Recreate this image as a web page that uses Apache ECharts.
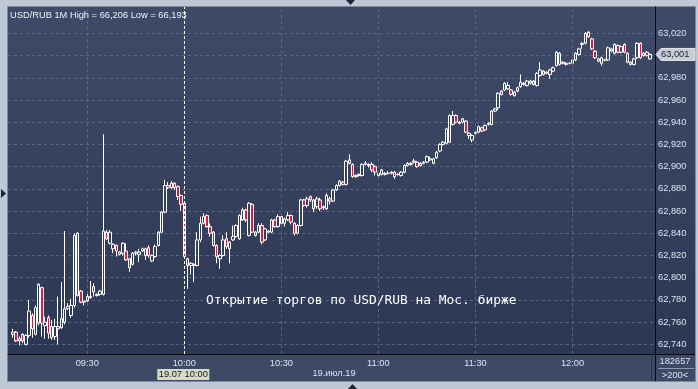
<!DOCTYPE html>
<html><head><meta charset="utf-8">
<script src="https://cdn.jsdelivr.net/npm/echarts@6/dist/echarts.min.js"></script>
<style>html,body{margin:0;padding:0;background:#bfc9d6;}#c{width:698px;height:389px;}</style>
</head><body><div id="c"></div>
<script>
// ---- texts ----
const titleText = 'USD/RUB 1M High = 66,206 Low = 66,193';
const noteText = 'Открытие торгов по USD/RUB на Мос. бирже';
const dateText = '19.июл.19';
const cursorTime = '10:00';
const cursorTag = '19.07 10:00';
const volumeText = '182657';
const countText = '>200<';

// ---- axis ----
const firstMinute = 9 * 60 + 6;   // 09:06
const lastMinute = 12 * 60 + 25;  // 12:25
const firstCandleIndex = 1;       // first candle at 09:07
const gridTimes = ['09:30', '10:30', '11:00', '11:30', '12:00'];
const yTicks = [62.74, 62.76, 62.78, 62.80, 62.82, 62.84, 62.86, 62.88, 62.90, 62.92, 62.94, 62.96, 62.98, 63.00, 63.02];
const yMin = 62.7313, yMax = 63.0437;

// ---- candles [open, close, low, high] ----
const candlesEarly = [
[62.749,62.751,62.746,62.754],[62.751,62.743,62.742,62.752],[62.743,62.745,62.739,62.747],[62.749,62.743,62.741,62.750],
[62.740,62.748,62.739,62.749],[62.748,62.770,62.746,62.780],[62.766,62.754,62.746,62.768],[62.749,62.773,62.748,62.775],
[62.759,62.794,62.757,62.795],[62.791,62.759,62.747,62.792],[62.757,62.760,62.745,62.765],[62.764,62.750,62.745,62.766],
[62.756,62.746,62.744,62.762],[62.747,62.756,62.744,62.763],[62.756,62.754,62.740,62.783],[62.755,62.763,62.754,62.796],
[62.760,62.772,62.758,62.842],[62.772,62.774,62.771,62.777],[62.766,62.775,62.764,62.781],[62.775,62.838,62.773,62.840],
[62.840,62.784,62.783,62.841],[62.788,62.778,62.777,62.789],[62.779,62.778,62.775,62.779],[62.779,62.783,62.778,62.787],
[62.782,62.783,62.781,62.797],[62.792,62.787,62.783,62.795],[62.785,62.784,62.783,62.786],[62.785,62.788,62.784,62.789],
[62.785,62.842,62.784,62.929],[62.841,62.835,62.834,62.843],[62.831,62.841,62.830,62.843],[62.826,62.830,62.822,62.831],
[62.829,62.824,62.819,62.830],[62.821,62.823,62.820,62.824],[62.822,62.831,62.820,62.832],[62.824,62.816,62.815,62.831],
[62.817,62.809,62.805,62.818],[62.812,62.822,62.811,62.823],[62.822,62.823,62.820,62.824],[62.821,62.823,62.814,62.826],
[62.824,62.826,62.823,62.827],[62.820,62.826,62.816,62.827],[62.827,62.820,62.818,62.829],[62.815,62.820,62.814,62.821],
[62.819,62.828,62.818,62.830],[62.829,62.841,62.828,62.842],[62.841,62.859,62.840,62.860],[62.859,62.883,62.858,62.888],
[62.883,62.881,62.880,62.886],[62.881,62.885,62.880,62.887],[62.885,62.881,62.879,62.886],[62.882,62.873,62.870,62.883],
[62.874,62.866,62.860,62.875],[62.867,62.819,62.817,62.868]
];
const candlesMid = [
[62.817,62.811,62.790,62.818],[62.811,62.813,62.803,62.814],[62.812,62.811,62.796,62.813],[62.811,62.834,62.810,62.841],
[62.834,62.849,62.832,62.855],[62.849,62.855,62.848,62.858],[62.856,62.846,62.845,62.857],[62.846,62.840,62.837,62.849],
[62.841,62.829,62.828,62.842],[62.829,62.819,62.813,62.830],[62.817,62.820,62.808,62.821],[62.820,62.834,62.819,62.838],
[62.835,62.828,62.826,62.841],[62.826,62.832,62.813,62.833],[62.834,62.837,62.833,62.847],[62.837,62.847,62.836,62.848],
[62.835,62.856,62.834,62.857],[62.852,62.861,62.851,62.863],[62.861,62.852,62.850,62.862],[62.838,62.867,62.837,62.868],
[62.866,62.841,62.840,62.867],[62.841,62.838,62.837,62.842],[62.841,62.847,62.840,62.849],[62.847,62.832,62.830,62.849],
[62.834,62.844,62.833,62.845],[62.841,62.842,62.840,62.843],[62.841,62.852,62.840,62.853],[62.852,62.846,62.845,62.853],
[62.846,62.855,62.845,62.857],[62.855,62.849,62.848,62.857],[62.849,62.853,62.846,62.854],[62.852,62.856,62.851,62.859],
[62.856,62.850,62.848,62.857],[62.849,62.840,62.838,62.850],[62.840,62.847,62.839,62.848],[62.847,62.870,62.846,62.871],
[62.870,62.865,62.864,62.871],[62.865,62.871,62.863,62.873],[62.873,62.870,62.868,62.874],[62.870,62.862,62.859,62.871],
[62.864,62.871,62.862,62.873],[62.870,62.862,62.860,62.872],[62.863,62.864,62.861,62.865],[62.862,62.874,62.861,62.876],
[62.871,62.869,62.866,62.873]
];
const candlesLate = [
[62.869,62.879,62.868,62.880],[62.879,62.883,62.878,62.884],[62.883,62.887,62.882,62.888],[62.886,62.884,62.883,62.887],
[62.884,62.905,62.883,62.906],[62.906,62.903,62.902,62.911],[62.902,62.891,62.890,62.903],[62.892,62.891,62.890,62.893],
[62.892,62.893,62.891,62.894],[62.892,62.902,62.891,62.903],[62.902,62.903,62.901,62.905],[62.902,62.901,62.899,62.903],
[62.902,62.897,62.895,62.904],[62.900,62.895,62.892,62.901],[62.892,62.894,62.891,62.895],[62.893,62.897,62.892,62.898],
[62.894,62.893,62.892,62.895],[62.894,62.894,62.893,62.896],[62.894,62.895,62.893,62.896],[62.895,62.891,62.889,62.896],
[62.893,62.893,62.892,62.894],[62.892,62.895,62.891,62.896],[62.895,62.901,62.894,62.902],[62.901,62.903,62.900,62.904],
[62.902,62.903,62.901,62.904],[62.904,62.905,62.903,62.907],[62.904,62.900,62.899,62.905],[62.901,62.903,62.900,62.904],
[62.903,62.904,62.902,62.905],[62.904,62.909,62.903,62.910],[62.906,62.907,62.905,62.909],[62.903,62.907,62.902,62.908],
[62.908,62.913,62.907,62.914],[62.914,62.920,62.913,62.921],[62.920,62.922,62.919,62.923],[62.921,62.934,62.920,62.935],
[62.922,62.946,62.921,62.947],[62.938,62.946,62.937,62.950],[62.946,62.940,62.939,62.947],[62.940,62.939,62.938,62.941],
[62.940,62.943,62.939,62.944],[62.941,62.931,62.930,62.942],[62.928,62.930,62.925,62.931],[62.924,62.928,62.922,62.929],
[62.930,62.931,62.929,62.932],[62.931,62.936,62.930,62.937],[62.935,62.932,62.931,62.936],[62.933,62.937,62.932,62.938],
[62.938,62.939,62.937,62.940],[62.938,62.950,62.937,62.951],[62.950,62.952,62.949,62.953]
];
const candlesNoon = [
[62.953,62.966,62.951,62.967],[62.965,62.968,62.964,62.969],[62.969,62.975,62.968,62.976],[62.970,62.973,62.969,62.976],
[62.969,62.965,62.964,62.970],[62.964,62.967,62.963,62.968],[62.968,62.971,62.967,62.972],[62.972,62.976,62.971,62.983],
[62.975,62.974,62.973,62.976],[62.973,62.977,62.972,62.978],[62.975,62.977,62.974,62.978],[62.977,62.974,62.973,62.978],
[62.973,62.984,62.972,62.985],[62.982,62.987,62.981,62.994],[62.986,62.983,62.982,62.987],[62.984,62.985,62.983,62.986],
[62.983,62.987,62.979,62.988],[62.986,62.989,62.985,62.990],[62.991,63.003,62.990,63.004],[63.002,62.992,62.991,63.003],
[62.994,62.993,62.992,62.995],[62.993,62.992,62.991,62.994],[62.993,62.993,62.992,62.994],[62.993,62.996,62.992,62.997],
[62.996,63.002,62.995,63.003],[63.001,63.006,63.000,63.007],[63.010,63.011,63.006,63.012],[63.011,63.020,63.010,63.021],
[63.021,63.017,63.016,63.022],[63.015,63.006,63.005,63.016],[63.004,62.998,62.997,63.005],[62.995,62.997,62.994,62.998],
[62.993,62.998,62.991,62.999],[62.996,62.996,62.995,62.997],[62.996,63.007,62.995,63.008],[63.006,63.004,63.003,63.007],
[63.002,63.010,63.001,63.011],[63.009,63.003,63.002,63.010],[63.003,63.008,63.002,63.009],[63.010,63.003,63.002,63.011],
[63.002,62.994,62.993,63.003],[62.992,62.994,62.991,62.995],[62.992,62.997,62.991,62.998],[62.998,63.011,62.997,63.012],
[63.011,62.998,62.997,63.012],[63.000,63.002,62.999,63.003],[63.003,63.000,62.999,63.004],[62.997,63.001,62.996,63.002]
];

// ---- build ----
const pad = n => (n < 10 ? '0' : '') + n;
const categories = [];
for (let m = firstMinute; m <= lastMinute; m++) categories.push(pad(Math.floor(m / 60)) + ':' + pad(m % 60));
const candles = candlesEarly.concat(candlesMid, candlesLate, candlesNoon);
const rows = candles.map((c, i) => [categories[i + firstCandleIndex], c[0], c[1], c[2], c[3]]);
const lastClose = candles[candles.length - 1][1];
const fmt = v => v.toFixed(3).replace('.', ',');
const FONT = '"Liberation Sans", Arial, sans-serif';
const labelColor = '#dbe3ef';

const chart = echarts.init(document.getElementById('c'), null, {renderer: 'canvas'});
chart.setOption({
  animation: false,
  backgroundColor: '#bfc9d6',
  grid: {left: 8, top: 7, right: 43, bottom: 35},
  xAxis: {
    type: 'category', data: categories, boundaryGap: true,
    axisLine: {show: true, lineStyle: {color: '#070b16', width: 1}},
    axisTick: {show: false},
    splitLine: {show: false},
    axisLabel: {
      color: labelColor, fontSize: 9.3, fontFamily: FONT, margin: 5,
      interval: (idx, val) => /:(00|30)$/.test(val)
    }
  },
  yAxis: {
    type: 'value', position: 'right', min: yMin, max: yMax,
    axisLine: {show: true, lineStyle: {color: '#070b16', width: 1}},
    axisTick: {show: false, customValues: yTicks},
    axisLabel: {customValues: yTicks, formatter: fmt, color: labelColor, fontSize: 9.3, fontFamily: FONT, margin: 3},
    splitLine: {show: true, lineStyle: {color: '#5a6683', type: [3, 3], width: 1}}
  },
  series: [{
    type: 'candlestick',
    data: rows,
    encode: {x: 0, y: [1, 2, 3, 4]},
    barWidth: 3,
    itemStyle: {
      color: 'rgba(0,0,0,0)', color0: '#e8163f',
      borderColor: '#ffffff', borderColor0: '#ffffff', borderColorDoji: '#ffffff', borderWidth: 1
    },
    markLine: {
      silent: true, symbol: 'none', label: {show: false}, animation: false,
      lineStyle: {color: '#5a6683', type: [3, 3], width: 1},
      data: gridTimes.map(t => ({xAxis: t})).concat([{xAxis: cursorTime, lineStyle: {color: '#ffffff', type: [3, 2], width: 1}}])
    }
  }]
});

const cx = chart.convertToPixel({xAxisIndex: 0}, cursorTime);
const py = chart.convertToPixel({yAxisIndex: 0}, lastClose);
const grad = new echarts.graphic.LinearGradient(0, 0, 0, 1, [{offset: 0, color: '#3e4a67'}, {offset: 1, color: '#2c3853'}]);
chart.setOption({
  graphic: {elements: [
    {type: 'rect', z: -10, silent: true, shape: {x: 7.5, y: 6.5, width: 688, height: 375}, style: {fill: '#3d4965', stroke: '#7f8a9b', lineWidth: 1}},
    {type: 'rect', z: -9, silent: true, shape: {x: 8, y: 7, width: 687, height: 347}, style: {fill: grad}},
    {type: 'line', z: 5, silent: true, shape: {x1: 655.5, y1: 7, x2: 655.5, y2: 381}, style: {stroke: '#070b16', lineWidth: 1}},
    {type: 'line', z: 5, silent: true, shape: {x1: 8, y1: 354.5, x2: 695, y2: 354.5}, style: {stroke: '#070b16', lineWidth: 1}},
    {type: 'line', z: 5, silent: true, shape: {x1: 651.5, y1: 357, x2: 651.5, y2: 380}, style: {stroke: '#2a3450', lineWidth: 1}},
    {type: 'text', z: 6, silent: true, style: {x: 10, y: 15, text: titleText, fill: '#eef3fa', font: '9.3px ' + FONT, verticalAlign: 'middle'}},
    {type: 'text', z: 6, silent: true, style: {x: 206, y: 300.5, text: noteText, fill: '#ffffff', font: '12.9px "DejaVu Sans Mono", monospace', verticalAlign: 'middle'}},
    {type: 'text', z: 6, silent: true, style: {x: 334, y: 373.5, text: dateText, fill: labelColor, font: '9.3px ' + FONT, align: 'center', verticalAlign: 'middle'}},
    {type: 'rect', z: 6, silent: true, shape: {x: cx - 27, y: 369, width: 52, height: 11}, style: {fill: '#d8dbc4'}},
    {type: 'text', z: 7, silent: true, style: {x: cx - 1, y: 374.5, text: cursorTag, fill: '#151515', font: '9.3px ' + FONT, align: 'center', verticalAlign: 'middle'}},
    {type: 'polygon', z: 6, silent: true, shape: {points: [[656, py], [661, py - 6], [695, py - 6], [695, py + 6], [661, py + 6]]}, style: {fill: '#c8ccd4', stroke: '#e4e7ec', lineWidth: 1}},
    {type: 'text', z: 7, silent: true, style: {x: 661, y: py, text: fmt(lastClose), fill: '#1a2030', font: '9.3px ' + FONT, verticalAlign: 'middle'}},
    {type: 'text', z: 6, silent: true, style: {x: 675, y: 361.5, text: volumeText, fill: labelColor, font: '9.3px ' + FONT, align: 'center', verticalAlign: 'middle'}},
    {type: 'line', z: 6, silent: true, shape: {x1: 658, y1: 368.5, x2: 694, y2: 368.5}, style: {stroke: '#8e99ad', lineWidth: 1}},
    {type: 'text', z: 6, silent: true, style: {x: 675, y: 375, text: countText, fill: labelColor, font: '9.3px ' + FONT, align: 'center', verticalAlign: 'middle'}},
    {type: 'polygon', z: 6, silent: true, shape: {points: [[346, 0], [355, 0], [350.5, 5]]}, style: {fill: '#1c2436'}},
    {type: 'polygon', z: 6, silent: true, shape: {points: [[348, 389], [357, 389], [352.5, 384]]}, style: {fill: '#1c2436'}},
    {type: 'polygon', z: 6, silent: true, shape: {points: [[1, 189], [1, 198], [6, 193.5]]}, style: {fill: '#1c2436'}}
  ]}
});
</script></body></html>
